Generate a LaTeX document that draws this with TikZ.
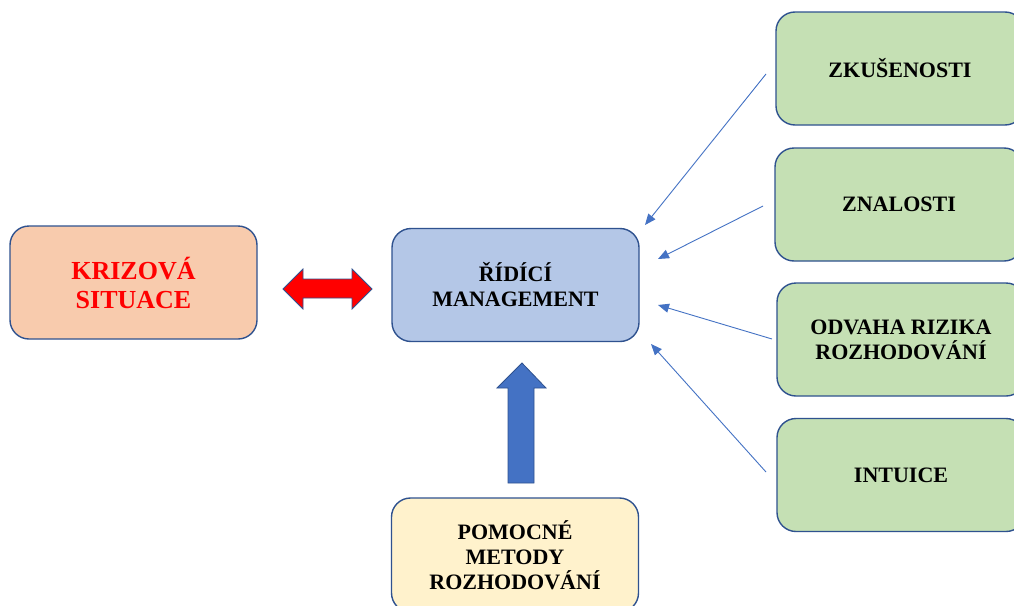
\documentclass[tikz,border=0pt]{standalone}
\usepackage{fontspec}
\setmainfont{Liberation Serif}
\usetikzlibrary{arrows.meta,calc}
\definecolor{peach}{HTML}{F8CBAD}
\definecolor{paleblue}{HTML}{B4C7E7}
\definecolor{palegreen}{HTML}{C5E0B4}
\definecolor{paleyellow}{HTML}{FFF2CC}
\definecolor{edgeblue}{HTML}{2F528F}
\definecolor{arrowblue}{HTML}{4472C4}
\tikzset{
  box/.style={draw=edgeblue, line width=1.4pt, rounded corners=19pt,
    minimum width=247pt, minimum height=113pt, align=center, inner sep=0pt,
    font=\fontsize{22}{25}\selectfont\bfseries},
  feed/.style={draw=arrowblue, line width=0.9pt,
    -{Triangle[length=11pt,width=9pt]}},
  fatarrow/.style={draw=edgeblue, line width=0.8pt, line join=miter},
}
\begin{document}
\begin{tikzpicture}[x=1pt,y=-1pt]
\clip (0,0) rectangle (1014,605);
\fill[white] (0,0) rectangle (1014,605);

% main boxes
\node[box, fill=peach, text=red, font=\fontsize{26}{29}\selectfont\bfseries]
  (krize) at (133.5,282.5) {KRIZOVÁ\\SITUACE};
\node[box, fill=paleblue] (rizeni) at (515.5,285) {ŘÍDÍCÍ\\MANAGEMENT};
\node[box, fill=paleyellow, minimum height=114pt] (metody) at (515,555)
  {POMOCNÉ\\METODY\\ROZHODOVÁNÍ};

% factors on the right
\node[box, fill=palegreen, minimum width=248pt] (zkus) at (900,68.5) {ZKUŠENOSTI};
\node[box, fill=palegreen, minimum width=248pt] (znal) at (899,204.5) {ZNALOSTI};
\node[box, fill=palegreen, minimum width=248pt] (odv) at (901,339.5) {ODVAHA RIZIKA\\ROZHODOVÁNÍ};
\node[box, fill=palegreen, minimum width=248pt] (intu) at (901,475) {INTUICE};

% free ends of the thin connectors
\coordinate (a1) at (766,74);  \coordinate (b1) at (645,225);
\coordinate (a2) at (763,206); \coordinate (b2) at (658,259);
\coordinate (a3) at (772,339); \coordinate (b3) at (658,305);
\coordinate (a4) at (766,472); \coordinate (b4) at (651,344);
\draw[feed] (a1) -- (b1);
\draw[feed] (a2) -- (b2);
\draw[feed] (a3) -- (b3);
\draw[feed] (a4) -- (b4);

% two-way block arrow between crisis and management
\draw[fatarrow, fill=red] (283,289) -- (303,269) -- (303,279) -- (352,279)
  -- (352,269) -- (372,289) -- (352,309) -- (352,298) -- (303,298)
  -- (303,309) -- cycle;

% block arrow from the methods up to management
\draw[fatarrow, fill=arrowblue] (522,363) -- (546,388) -- (534,388) -- (534,483)
  -- (508,483) -- (508,388) -- (497,388) -- cycle;
\end{tikzpicture}
\end{document}
